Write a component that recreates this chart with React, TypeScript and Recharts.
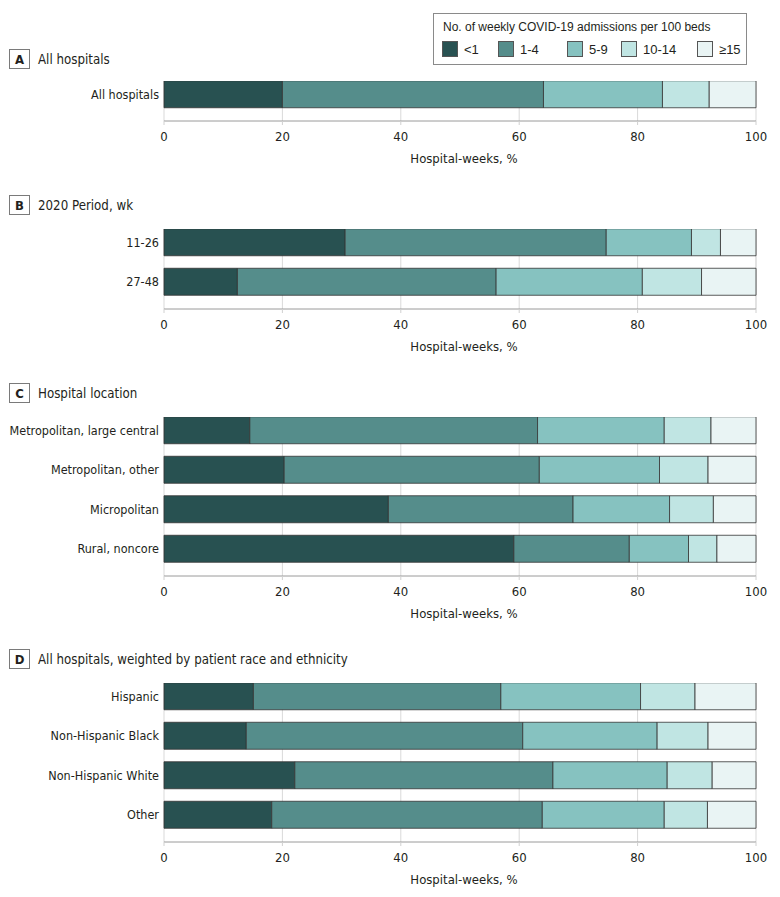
import React from 'react';
import { BarChart, Bar, XAxis, YAxis, CartesianGrid } from 'recharts';

// weekly COVID-19 admissions per 100 beds, share of hospital-weeks (%)
const seriesKeys = ['lt1', 'r1to4', 'r5to9', 'r10to14', 'ge15'];
const seriesLabels = ['<1', '1-4', '5-9', '10-14', '≥15'];
const seriesColors = ['#285151', '#558d8b', '#86c2c0', '#c0e5e3', '#e9f4f4'];

const allCategories = ['All hospitals'];
const allValues = [[20.0, 44.1, 20.1, 7.9, 7.9]];

const periodCategories = ['11-26', '27-48'];
const periodValues = [
  [30.6, 44.1, 14.4, 4.9, 6.0],
  [12.4, 43.7, 24.7, 10.0, 9.2],
];

const locationCategories = ['Metropolitan, large central', 'Metropolitan, other', 'Micropolitan', 'Rural, noncore'];
const locationValues = [
  [14.5, 48.6, 21.4, 7.9, 7.6],
  [20.3, 43.1, 20.3, 8.2, 8.1],
  [37.9, 31.2, 16.3, 7.4, 7.2],
  [59.1, 19.5, 10.0, 4.8, 6.6],
];

const raceCategories = ['Hispanic', 'Non-Hispanic Black', 'Non-Hispanic White', 'Other'];
const raceValues = [
  [15.1, 41.8, 23.6, 9.2, 10.3],
  [13.9, 46.7, 22.7, 8.6, 8.1],
  [22.1, 43.6, 19.3, 7.6, 7.4],
  [18.2, 45.7, 20.6, 7.3, 8.2],
];

const xTicks = [0, 20, 40, 60, 80, 100];

const FONT = "'DejaVu Sans Condensed', 'Liberation Sans Narrow', sans-serif";
const LEGEND_FONT = "'Liberation Sans', Arial, sans-serif";
const TEXT = '#231f20';
const BAND = 39.5;
const BAR = 27;
const AXIS_H = 50;

// category labels drawn on one line (default ticks wrap to the axis width)
function CategoryTick(props: any) {
  const { x, y, payload } = props;
  return (
    <text x={x} y={y} dy="0.35em" textAnchor="end" fontSize={12.5} fontFamily={FONT} fill={TEXT}>
      {payload.value}
    </text>
  );
}

function Panel({ letter, title, titleY, barTop, axisY, categories, values }: {
  letter: string;
  title: string;
  titleY: number;
  barTop: number;
  axisY: number;
  categories: string[];
  values: number[][];
}) {
  const data = categories.map((name, i) => {
    const row: Record<string, string | number> = { name };
    seriesKeys.forEach((k, j) => (row[k] = values[i][j]));
    return row;
  });
  const plotH = axisY - barTop;
  const off = (BAND - BAR) / 2;
  const padBottom = plotH - categories.length * BAND + off;

  return (
    <>
      <div style={{ position: 'absolute', left: 9, top: titleY - 10, height: 20, display: 'flex', alignItems: 'center' }}>
        <div style={{
          width: 19, height: 18, border: '1px solid #7a7a7a', display: 'flex', alignItems: 'center',
          justifyContent: 'center', fontWeight: 'bold', fontSize: 13, fontFamily: FONT, color: TEXT,
        }}>{letter}</div>
        <span style={{ marginLeft: 8, fontSize: 13.2, fontFamily: FONT, color: TEXT, whiteSpace: 'nowrap' }}>{title}</span>
      </div>
      <div style={{ position: 'absolute', left: 0, top: barTop }}>
        <BarChart
          width={780}
          height={plotH + AXIS_H}
          data={data}
          layout="vertical"
          margin={{ top: 0, right: 24, bottom: 0, left: 0 }}
          barSize={BAR}
        >
          <CartesianGrid horizontal={false} stroke="#d9d9d9" />
          <XAxis
            type="number"
            domain={[0, 100]}
            ticks={xTicks}
            height={AXIS_H}
            tickSize={4}
            tickMargin={7}
            tickLine={{ stroke: '#d0d0d0' }}
            axisLine={{ stroke: '#9a9a9a' }}
            tick={{ fontSize: 13, fontFamily: FONT, fill: TEXT }}
            label={{ value: 'Hospital-weeks, %', position: 'insideBottom', offset: 8, dx: 4, fontSize: 13, fontFamily: FONT, fill: TEXT }}
          />
          <YAxis
            type="category"
            dataKey="name"
            width={164}
            tickSize={0}
            tickMargin={5}
            axisLine={false}
            tickLine={false}
            padding={{ top: -off, bottom: padBottom }}
            tick={<CategoryTick />}
          />
          {seriesKeys.map((k, j) => (
            <Bar
              key={k}
              dataKey={k}
              stackId="a"
              fill={seriesColors[j]}
              stroke="#333"
              strokeWidth={0.8}
              isAnimationActive={false}
            />
          ))}
        </BarChart>
      </div>
    </>
  );
}

const legendSwatchX = [442, 498, 567, 621, 697];

export default function App() {
  return (
    <div style={{ position: 'absolute', left: 0, top: 0, width: 780, height: 897, background: '#fff', fontFamily: FONT }}>
      <div style={{
        position: 'absolute', left: 433, top: 13, width: 312, height: 50, border: '1px solid #8a8a8a',
      }} />
      <div style={{
        position: 'absolute', left: 443, top: 20, fontSize: 12, fontFamily: LEGEND_FONT, color: TEXT,
        whiteSpace: 'nowrap',
      }}>No. of weekly COVID-19 admissions per 100 beds</div>
      {seriesLabels.map((s, j) => (
        <div key={s} style={{ position: 'absolute', left: legendSwatchX[j], top: 41, display: 'flex', alignItems: 'center' }}>
          <div style={{ width: 14, height: 14, background: seriesColors[j], border: '1px solid #555' }} />
          <span style={{ marginLeft: 6, fontSize: 13, fontFamily: LEGEND_FONT, color: TEXT }}>{s}</span>
        </div>
      ))}

      <Panel letter="A" title="All hospitals" titleY={59} barTop={81} axisY={121}
        categories={allCategories} values={allValues} />
      <Panel letter="B" title="2020 Period, wk" titleY={205} barTop={229} axisY={309}
        categories={periodCategories} values={periodValues} />
      <Panel letter="C" title="Hospital location" titleY={393} barTop={417} axisY={576}
        categories={locationCategories} values={locationValues} />
      <Panel letter="D" title="All hospitals, weighted by patient race and ethnicity" titleY={659} barTop={683} axisY={842}
        categories={raceCategories} values={raceValues} />
    </div>
  );
}
